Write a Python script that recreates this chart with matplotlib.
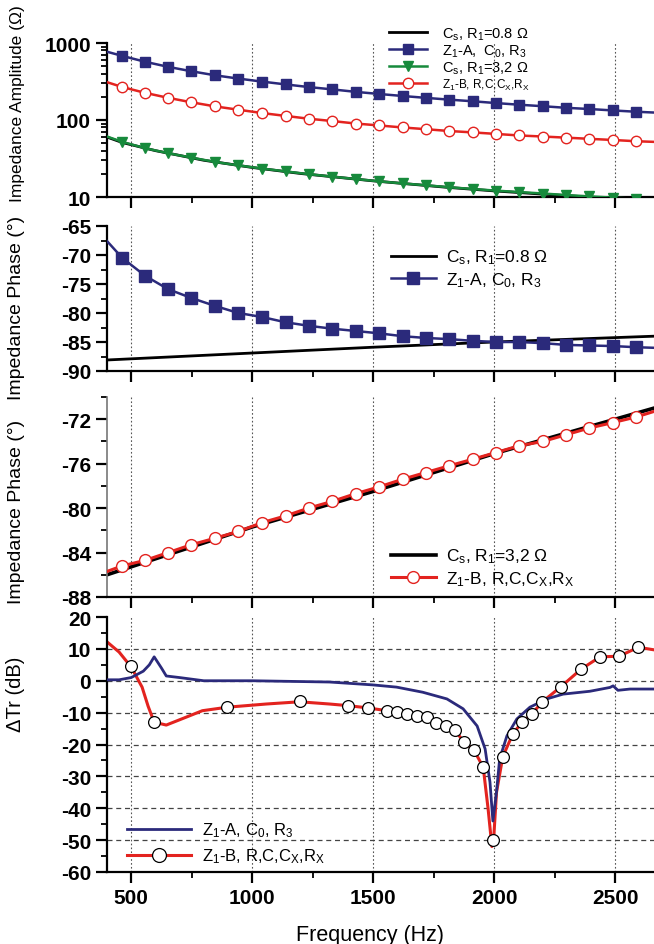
import numpy as np
import matplotlib
matplotlib.use('Agg')
import matplotlib.pyplot as plt
from matplotlib.lines import Line2D
from matplotlib.ticker import FixedLocator, NullFormatter

plt.rcParams['font.family'] = 'Liberation Sans'
plt.rcParams['mathtext.fontset'] = 'custom'
plt.rcParams['mathtext.rm'] = 'Liberation Sans'
plt.rcParams['mathtext.default'] = 'regular'

NAVY = '#2b2a7b'
RED = '#e3231f'
GREEN = '#178a3c'

# marker frequencies (Hz) for the impedance panels
f_mk = [463, 558, 653, 748, 848, 943, 1042, 1138, 1233, 1330, 1428, 1523,
        1622, 1717, 1813, 1912, 2007, 2102, 2202, 2297, 2392, 2492, 2587]
f_start, f_end = 400, 2661

# panel 1: impedance amplitude (ohm)
amp_A = [680, 570, 490, 430, 380, 345, 315, 290, 268, 250, 232, 218,
         205, 194, 184, 175, 166, 158, 151, 144, 139, 133, 128]
amp_A_ends = (770, 125)
amp_B = [268, 225, 194, 170, 150, 136, 123, 113, 104, 97, 90, 85,
         80, 76, 72, 69, 66, 63, 61, 59, 57, 55, 53]
amp_B_ends = (310, 52)
amp_G = [52, 43, 37, 32.5, 28.5, 25.7, 23.4, 21.5, 19.8, 18.4, 17.1, 16.0,
         15.0, 14.2, 13.4, 12.7, 12.1, 11.6, 11.1, 10.6, 10.2, 9.8, 9.5]
amp_G_ends = (61, 9.3)
amp_K_f = [400, 463, 600, 800, 1000, 1200, 1500, 1800, 2000, 2200, 2400, 2661]
amp_K = [60, 51, 40, 30, 24.2, 20.2, 16.2, 13.4, 12.0, 10.9, 9.95, 9.0]

# panel 2: phase, R1 = 0.8 ohm vs Z1-A
ph_A = [-70.5, -73.6, -75.9, -77.4, -78.8, -80.0, -80.7, -81.6, -82.2, -82.7,
        -83.1, -83.5, -84.0, -84.3, -84.5, -84.8, -85.0, -85.0, -85.2, -85.5,
        -85.6, -85.7, -85.9]
ph_A_ends = (-67.6, -86.0)
ph_K1_f = [400, 1000, 1500, 2000, 2661]
ph_K1 = [-88.1, -86.9, -85.9, -85.0, -84.0]

# panel 3: phase, R1 = 3.2 ohm vs Z1-B
ph_B = [-85.2, -84.7, -84.0, -83.3, -82.7, -82.1, -81.3, -80.7, -80.0, -79.4,
        -78.7, -78.1, -77.4, -76.8, -76.2, -75.6, -75.0, -74.4, -74.0, -73.4,
        -72.8, -72.3, -71.8]
ph_B_ends = (-85.7, -71.3)
ph_K2_f = [400, 1000, 1500, 2000, 2500, 2661]
ph_K2 = [-86.0, -81.7, -78.5, -75.1, -72.0, -71.0]

# panel 4: delta Tr (dB)
trA_f = [400, 450, 500, 550, 575, 595, 625, 645, 700, 800, 1000, 1320, 1498,
         1597, 1705, 1805, 1872, 1930, 1963, 1983, 1995, 2010, 2023, 2053,
         2094, 2148, 2218, 2285, 2396, 2479, 2492, 2512, 2562, 2661]
trA = [0.3, 0.3, 1.0, 3.0, 5.0, 7.5, 4.0, 1.5, 1.0, 0.0, 0.0, -0.4, -1.3,
       -2.0, -3.6, -5.7, -8.8, -14.2, -21.4, -31.8, -44.0, -34.9, -24.5, -17.3,
       -12.0, -8.3, -5.7, -4.2, -3.3, -2.1, -1.6, -3.0, -2.6, -2.6]
trB_f = [400, 450, 500, 545, 570, 595, 645, 728, 794, 897, 1058, 1196, 1320,
         1395, 1477, 1557, 1597, 1638, 1680, 1721, 1758, 1800, 1837, 1876,
         1917, 1955, 1975, 1991, 1998, 2010, 2036, 2078, 2116, 2157, 2198,
         2276, 2359, 2438, 2517, 2596, 2661]
trB = [12.2, 9.0, 4.3, -2.0, -8.0, -13.0, -13.9, -11.4, -9.4, -8.3, -7.3, -6.6,
       -7.3, -7.8, -8.5, -9.4, -9.9, -10.4, -11.0, -11.5, -13.2, -14.3, -15.5,
       -19.2, -21.8, -27.1, -40.0, -52.0, -50.0, -35.0, -23.8, -16.6, -13.0,
       -10.4, -6.7, -1.9, 3.6, 7.5, 7.7, 10.5, 9.7]
trB_mk_f = [500, 595, 897, 1196, 1395, 1477, 1557, 1597, 1638, 1680, 1721,
            1758, 1800, 1837, 1876, 1917, 1955, 1996, 2036, 2078, 2116, 2157,
            2198, 2276, 2359, 2438, 2517, 2596]
trB_mk = [4.5, -13.0, -8.3, -6.5, -7.8, -8.5, -9.4, -9.9, -10.4, -11.0, -11.5,
          -13.2, -14.3, -15.5, -19.2, -21.8, -27.1, -49.9, -23.8, -16.6, -13.0,
          -10.4, -6.7, -1.9, 3.6, 7.5, 7.7, 10.5]

x_major = [500, 1000, 1500, 2000, 2500]
x_minor = [750, 1250, 1750, 2250]


def full(vals, ends):
    return [ends[0]] + list(vals) + [ends[1]]


f_line = [f_start] + f_mk + [f_end]
inner = slice(1, -1)

W, H = 654, 945
fig = plt.figure(figsize=(W / 100, H / 100), dpi=100)
left = 107 / W
width = 1.0 - left


def make_ax(top, bottom):
    return fig.add_axes([left, 1 - bottom / H, width, (bottom - top) / H])


ax1 = make_ax(44, 198)
ax2 = make_ax(227, 372)
ax3 = make_ax(398, 598)
ax4 = make_ax(618, 873)
axes = [ax1, ax2, ax3, ax4]

for ax in axes:
    ax.set_xlim(f_start, f_end)
    ax.spines['top'].set_visible(False)
    ax.spines['right'].set_visible(False)
    for s in ['left', 'bottom']:
        ax.spines[s].set_linewidth(1.6)
    ax.xaxis.set_major_locator(FixedLocator(x_major))
    ax.xaxis.set_minor_locator(FixedLocator(x_minor))
    ax.tick_params(axis='both', which='major', direction='out', length=8, width=1.6,
                   labelsize=15)
    ax.tick_params(axis='both', which='minor', direction='out', length=4, width=1.3)
    for xv in x_major:
        ax.axvline(xv, color='#555555', lw=0.8, ls=(0, (1.5, 2)), zorder=0)
    if ax is not ax4:
        ax.set_xticklabels([])

# panel 1
ax1.set_yscale('log')
ax1.set_ylim(10, 1000)
ax1.set_yticks([10, 100, 1000])
ax1.set_yticklabels(['10', '100', '1000'], fontweight='bold')
ax1.yaxis.set_minor_formatter(NullFormatter())
ax1.plot(amp_K_f, amp_K, color='black', lw=2, label=r'C$_s$, R$_1$=0.8 Ω', zorder=2)
ax1.plot(f_line, full(amp_A, amp_A_ends), color=NAVY, lw=1.8, marker='s', ms=6.5,
         markevery=inner, label=r'Z$_1$-A,  C$_0$, R$_3$', zorder=3)
ax1.plot(f_line, full(amp_G, amp_G_ends), color=GREEN, lw=1.8, marker='v', ms=7,
         markevery=inner, label=r'C$_s$, R$_1$=3,2 Ω', zorder=3)
ax1.plot(f_line, full(amp_B, amp_B_ends), color=RED, lw=1.8, marker='o', ms=7.5,
         mfc='white', mec=RED, markevery=inner, label=r'Z$_1$-B, R,C,C$_X$,R$_X$', zorder=3)
ax1.set_ylabel('Impedance Amplitude (Ω)', fontsize=12.5)
ax1.yaxis.set_label_coords(-0.15, 0.61)
leg1 = ax1.legend(loc='upper left', bbox_to_anchor=(382 / W, 1 - 19 / H),
                  bbox_transform=fig.transFigure, frameon=False, fontsize=10.5,
                  borderpad=0, handlelength=2.6, handletextpad=1.0, labelspacing=0.05)
leg1.get_texts()[3].set_fontsize(8.5)

# panel 2
ax2.set_ylim(-90, -65)
ax2.set_yticks(np.arange(-90, -64, 5))
ax2.set_yticks(np.arange(-87.5, -65, 5), minor=True)
ax2.set_yticklabels([str(v) for v in range(-90, -64, 5)], fontweight='bold')
ax2.plot(ph_K1_f, ph_K1, color='black', lw=2, label=r'C$_s$, R$_1$=0.8 Ω', zorder=2)
ax2.plot(f_line, full(ph_A, ph_A_ends), color=NAVY, lw=1.8, marker='s', ms=8,
         markevery=inner, label=r'Z$_1$-A, C$_0$, R$_3$', zorder=3)
ax2.set_ylabel('Impedance Phase (°)', fontsize=14)
ax2.yaxis.set_label_coords(-0.15, 0.44)
ax2.legend(loc='upper left', bbox_to_anchor=(382 / W, 1 - 240 / H),
           bbox_transform=fig.transFigure, frameon=False, fontsize=12.5,
           borderpad=0, handlelength=2.6, handletextpad=0.6, labelspacing=0.2)

# panel 3
ax3.set_ylim(-88, -70)
ax3.set_yticks(np.arange(-88, -71, 4))
ax3.set_yticks(np.arange(-86, -69, 4), minor=True)
ax3.set_yticklabels([str(v) for v in range(-88, -71, 4)], fontweight='bold')
ax3.spines['left'].set_color('#777777')
ax3.spines['left'].set_linewidth(1.2)
ax3.plot(ph_K2_f, ph_K2, color='black', lw=2.6, label=r'C$_s$, R$_1$=3,2 Ω', zorder=2)
ax3.plot(f_line, full(ph_B, ph_B_ends), color=RED, lw=2.2, marker='o', ms=8.5,
         mfc='white', mec=RED, markevery=inner, label=r'Z$_1$-B, R,C,C$_X$,R$_X$', zorder=3)
ax3.set_ylabel('Impedance Phase (°)', fontsize=14)
ax3.yaxis.set_label_coords(-0.15, 0.43)
ax3.legend(loc='upper left', bbox_to_anchor=(382 / W, 1 - 539 / H),
           bbox_transform=fig.transFigure, frameon=False, fontsize=12.5,
           borderpad=0, handlelength=2.6, handletextpad=0.6, labelspacing=0.2)

# panel 4
ax4.set_ylim(-60, 20)
ax4.set_yticks(np.arange(-60, 21, 10))
ax4.set_yticks(np.arange(-55, 20, 10), minor=True)
ax4.set_yticklabels([str(v) for v in range(-60, 21, 10)], fontweight='bold')
ax4.set_xticklabels([str(v) for v in x_major], fontweight='bold')
for yv in range(-50, 11, 10):
    ax4.axhline(yv, color='#444444', lw=0.9, ls=(0, (4, 3)), zorder=0)
ax4.plot(trA_f, trA, color=NAVY, lw=2, zorder=3)
ax4.plot(trB_f, trB, color=RED, lw=2.2, zorder=2)
ax4.plot(trB_mk_f, trB_mk, ls='none', marker='o', ms=8.5, mfc='white', mec='black',
         mew=0.9, zorder=4)
h4 = [Line2D([], [], color=NAVY, lw=2),
      Line2D([], [], color=RED, lw=2.2, marker='o', ms=10, mfc='white', mec='black', mew=0.9)]
ax4.legend(h4, [r'Z$_1$-A, C$_0$, R$_3$', r'Z$_1$-B, R,C,C$_X$,R$_X$'], loc='upper left',
           bbox_to_anchor=(119 / W, 1 - 813 / H), bbox_transform=fig.transFigure,
           frameon=False, fontsize=12, borderpad=0, handlelength=3.8,
           handletextpad=0.7, labelspacing=0.45)
ax4.set_ylabel('ΔTr (dB)', fontsize=14.5)
ax4.yaxis.set_label_coords(-0.15, 0.70)
ax4.set_xlabel('Frequency (Hz)', fontsize=15.5)
ax4.xaxis.set_label_coords(0.48, -0.205)

fig.savefig('out.png', dpi=100)
